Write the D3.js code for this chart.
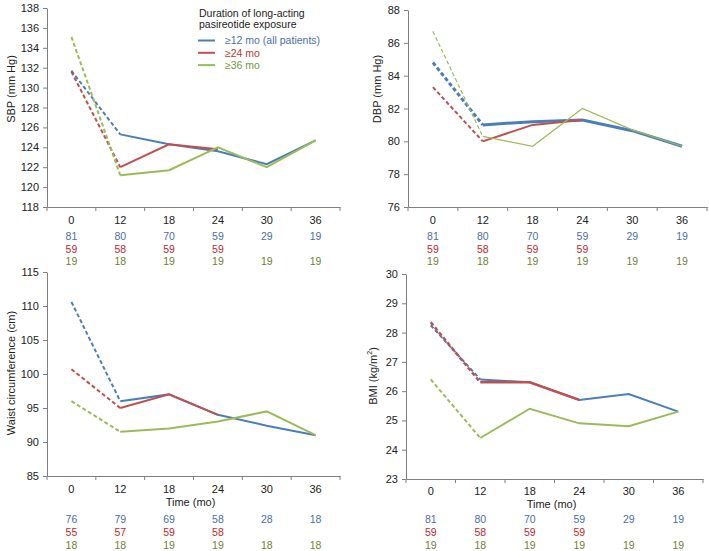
<!DOCTYPE html>
<html><head><meta charset="utf-8">
<script src="https://cdn.jsdelivr.net/npm/d3@7"></script>
<style>body{margin:0;background:#fff}svg{display:block;font-family:"Liberation Sans",Arial,sans-serif}</style>
</head><body>
<svg id="c" width="709" height="551"></svg>
<script>
const categories = ["0","12","18","24","30","36"];
const seriesNames = ["≥12 mo (all patients)","≥24 mo","≥36 mo"];

const sbpAll = [131.7,125.3,124.3,123.6,122.3,124.7];
const sbp24  = [131.6,122.0,124.3,123.8,null,null];
const sbp36  = [135.1,121.2,121.7,124.0,122.0,124.7];

const dbpAll = [84.8,81.0,81.2,81.3,80.65,79.7];
const dbp24  = [83.3,80.0,81.0,81.3,null,null];
const dbp36  = [86.7,80.3,79.7,82.0,80.7,79.7];

const waistAll = [110.6,96.0,97.0,94.0,92.4,91.0];
const waist24  = [100.7,95.0,97.0,94.0,null,null];
const waist36  = [96.0,91.5,92.0,93.0,94.5,91.0];

const bmiAll = [28.25,26.4,26.3,25.7,25.9,25.3];
const bmi24  = [28.35,26.3,26.3,25.7,null,null];
const bmi36  = [26.4,24.4,25.4,24.9,24.8,25.3];

const nBpAll = ["81","80","70","59","29","19"];
const nBp24  = ["59","58","59","59","",""];
const nBp36  = ["19","18","19","19","19","19"];
const nWaistAll = ["76","79","69","58","28","18"];
const nWaist24  = ["55","57","59","58","",""];
const nWaist36  = ["18","18","19","19","18","18"];

const sbpTicks = [118,120,122,124,126,128,130,132,134,136,138];
const dbpTicks = [76,78,80,82,84,86,88];
const waistTicks = [85,90,95,100,105,110,115];
const bmiTicks = [23,24,25,26,27,28,29,30];

const lineColors = ["#4a7ebb","#c0504d","#9bbb59"];
const textColors = ["#4a6ea8","#c0282d","#6f7f34"];
const legendText = ["#4a6fb0","#c0392b","#6f9a3a"];

const svg = d3.select("#c");

const panels = [
  {x0:47,x1:340,yT:8,yB:207,dom:[118,138],ticks:sbpTicks,series:[sbpAll,sbp24,sbp36],widths:[2,2,2],
   label:"SBP (mm Hg)",lx:11,ly:89,tickY:224,timeY:null,countY:[240,253,265],counts:[nBpAll,nBp24,nBp36]},
  {x0:408,x1:707,yT:10,yB:207,dom:[76,88],ticks:dbpTicks,series:[dbpAll,dbp24,dbp36],widths:[3,2,1.2],
   label:"DBP (mm Hg)",lx:377,ly:89,tickY:224,timeY:null,countY:[240,253,265],counts:[nBpAll,nBp24,nBp36]},
  {x0:47,x1:340,yT:272,yB:476,dom:[85,115],ticks:waistTicks,series:[waistAll,waist24,waist36],widths:[2,2,2],
   label:"Waist circumference (cm)",lx:11,ly:373,tickY:493,timeY:506,countY:[523,536,549],counts:[nWaistAll,nWaist24,nWaist36]},
  {x0:406,x1:703,yT:274,yB:479,dom:[23,30],ticks:bmiTicks,series:[bmiAll,bmi24,bmi36],widths:[2,2.5,2],
   label:"BMI",lx:373,ly:376,tickY:495,timeY:508,countY:[523,536,549],counts:[nBpAll,nBp24,nBp36],bmi:true}
];

panels.forEach(p => {
  const g = svg.append("g");
  const x = d3.scaleBand().domain(categories).range([p.x0,p.x1]);
  const y = d3.scaleLinear().domain(p.dom).range([p.yB,p.yT]);
  const cx = c => x(c) + x.bandwidth()/2;

  // y axis
  const ya = g.append("g").attr("transform",`translate(${p.x0},0)`)
    .call(d3.axisLeft(y).tickValues(p.ticks).tickFormat(d3.format("d")).tickSize(4).tickSizeOuter(0).tickPadding(4));
  ya.select(".domain").attr("stroke","#7f7f7f");
  ya.selectAll(".tick line").attr("stroke","#7f7f7f");
  ya.selectAll(".tick text").attr("font-size",11).attr("fill","#222").attr("font-family","Liberation Sans, Arial, sans-serif");

  // x axis
  const xa = g.append("g").attr("transform",`translate(0,${p.yB})`)
    .call(d3.axisBottom(x).tickSize(0).tickSizeOuter(0).tickFormat(""));
  xa.select(".domain").attr("stroke","#7f7f7f");
  const bounds = categories.map(c => x(c)).concat([x(categories[categories.length-1]) + x.bandwidth()]);
  g.selectAll(".bt").data(bounds).enter().append("line")
    .attr("x1",d=>d).attr("x2",d=>d).attr("y1",p.yB).attr("y2",p.yB+4).attr("stroke","#7f7f7f");
  g.selectAll(".xl").data(categories).enter().append("text")
    .attr("x",d=>cx(d)).attr("y",p.tickY).attr("text-anchor","middle")
    .attr("font-size",11).attr("fill","#222").text(d=>d);
  if (p.timeY) {
    g.append("text").attr("x",(p.x0+p.x1)/2 - 3).attr("y",p.timeY).attr("text-anchor","middle")
      .attr("font-size",11).attr("fill","#222").text("Time (mo)");
  }
  // counts
  p.counts.forEach((arr,i) => {
    g.selectAll(null).data(categories).enter().append("text")
      .attr("x",d=>cx(d)).attr("y",p.countY[i]).attr("text-anchor","middle")
      .attr("font-size",10.5).attr("fill",textColors[i]).text((d,j)=>arr[j]);
  });
  // y label
  const yl = g.append("text").attr("transform",`translate(${p.lx},${p.ly}) rotate(-90)`)
    .attr("text-anchor","middle").attr("dominant-baseline","central").attr("font-size",11).attr("fill","#222");
  if (p.bmi) {
    yl.append("tspan").text("BMI (kg/m");
    yl.append("tspan").attr("font-size",7).attr("dy",-4).text("2");
    yl.append("tspan").attr("dy",4).text(")");
  } else yl.text(p.label);

  // lines
  p.series.forEach((vals,i) => {
    const pts = categories.map((c,j)=>({c,v:vals[j]})).filter(d=>d.v!=null);
    const line = d3.line().x(d=>cx(d.c)).y(d=>y(d.v));
    g.append("path").attr("d",line(pts.slice(0,2))).attr("fill","none")
      .attr("stroke",lineColors[i]).attr("stroke-width",p.widths[i]).attr("stroke-dasharray","4,2.5");
    g.append("path").attr("d",line(pts.slice(1))).attr("fill","none")
      .attr("stroke",lineColors[i]).attr("stroke-width",p.widths[i]).attr("stroke-linejoin","miter");
  });
});

// legend
const lg = svg.append("g");
lg.append("text").attr("x",199).attr("y",16.5).attr("font-size",10.5).attr("fill","#222").text("Duration of long-acting");
lg.append("text").attr("x",199).attr("y",28).attr("font-size",10.5).attr("fill","#222").text("pasireotide exposure");
seriesNames.forEach((n,i) => {
  const yy = 40.5 + i*12.3;
  lg.append("line").attr("x1",198).attr("x2",215).attr("y1",yy).attr("y2",yy)
    .attr("stroke",lineColors[i]).attr("stroke-width",2);
  lg.append("text").attr("x",225).attr("y",yy+3.8).attr("font-size",10.5).attr("fill",legendText[i]).text(n);
});
</script>
</body></html>
